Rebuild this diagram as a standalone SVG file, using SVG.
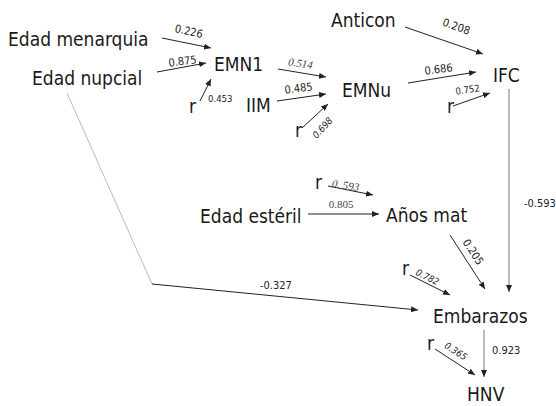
<svg xmlns="http://www.w3.org/2000/svg" width="556" height="406" viewBox="0 0 556 406">
<defs>
<marker id="ah" markerUnits="userSpaceOnUse" markerWidth="8" markerHeight="6" refX="7" refY="3" orient="auto">
<path d="M0,0 L7,3 L0,6 Z" fill="#222"/>
</marker>
<style>
.n{font-family:"DejaVu Sans Condensed","DejaVu Sans",sans-serif;font-stretch:condensed;font-size:19px;fill:#1a1a1a}
.l{font-family:"DejaVu Sans Condensed","DejaVu Sans",sans-serif;font-stretch:condensed;font-size:11px;fill:#222}
.s{font-size:9.5px}
.i{font-style:italic}
.t{font-family:"Liberation Serif",serif;font-size:11px;fill:#444}
.a{stroke:#222;stroke-width:1;fill:none;marker-end:url(#ah)}
.g{stroke:#777;stroke-width:1;fill:none}
</style>
</defs>
<rect width="556" height="406" fill="#fff"/>
<g id="connectors">
<line class="a" x1="162" y1="38" x2="211" y2="48"/>
<line class="a" x1="157" y1="72" x2="206" y2="63"/>
<line class="a" x1="200" y1="101" x2="211" y2="79"/>
<line class="a" x1="278" y1="69" x2="326" y2="77"/>
<line class="a" x1="277" y1="101" x2="326" y2="94"/>
<line class="a" x1="302" y1="128" x2="328" y2="104"/>
<line class="a" x1="405" y1="27" x2="483" y2="54"/>
<line class="a" x1="408" y1="83" x2="476" y2="72"/>
<line class="a" x1="453" y1="106" x2="490" y2="93"/>
<line class="g" x1="509" y1="89" x2="509" y2="292" marker-end="url(#ah)"/>
<line stroke="#aaa" stroke-width="0.8" x1="67" y1="93" x2="152" y2="284"/>
<line class="a" x1="152" y1="284" x2="418" y2="310"/>
<line class="a" x1="328" y1="186" x2="373" y2="195"/>
<line class="a" x1="308" y1="214" x2="379" y2="214"/>
<line class="a" x1="450" y1="235" x2="485" y2="289"/>
<line class="a" x1="410" y1="275" x2="450" y2="295"/>
<line class="g" x1="484" y1="330" x2="484" y2="377" marker-end="url(#ah)"/>
<line class="a" x1="435" y1="349" x2="475" y2="375"/>
<g id="labels">
<text class="l" transform="translate(188,35) rotate(12)" text-anchor="middle">0.226</text>
<text class="l" transform="translate(183,65) rotate(-7)" text-anchor="middle">0.875</text>
<text class="l s" x="208" y="102">0.453</text>
<text class="t i" transform="translate(300,67) rotate(8)" text-anchor="middle">0.514</text>
<text class="l" transform="translate(299,92) rotate(-7)" text-anchor="middle">0.485</text>
<text class="l s i" transform="translate(325,130) rotate(-48)" text-anchor="middle">0.698</text>
<text class="l" transform="translate(455,30) rotate(20)" text-anchor="middle">0.208</text>
<text class="l" transform="translate(439,73) rotate(-7)" text-anchor="middle">0.686</text>
<text class="l s" transform="translate(468,93) rotate(-8)" text-anchor="middle">0.752</text>
<text class="l" x="524" y="207">-0.593</text>
<text class="l" x="260" y="289">-0.327</text>
<text class="t i" transform="translate(345,189) rotate(8)" text-anchor="middle">0. 593</text>
<text class="t" x="341" y="208" text-anchor="middle">0.805</text>
<text class="l" transform="translate(470,254) rotate(57)" text-anchor="middle">0.205</text>
<text class="l s i" transform="translate(426,280) rotate(27)" text-anchor="middle">0.782</text>
<text class="l" x="492" y="354">0.923</text>
<text class="l s i" transform="translate(454,354) rotate(33)" text-anchor="middle">0.365</text>
</g>
</g>
<g id="edad-menarquia"><text class="n" x="8" y="46">Edad menarquia</text></g>
<g id="edad-nupcial"><text class="n" x="32" y="85">Edad nupcial</text></g>
<g id="emn1"><text class="n" x="214" y="71">EMN1</text></g>
<g id="iim"><text class="n" x="246" y="112">IIM</text></g>
<g id="anticon"><text class="n" x="331" y="27">Anticon</text></g>
<g id="emnu"><text class="n" x="342" y="97">EMNu</text></g>
<g id="ifc"><text class="n" x="493" y="82">IFC</text></g>
<g id="edad-esteril"><text class="n" x="200" y="223">Edad estéril</text></g>
<g id="anos-mat"><text class="n" x="386" y="222">Años mat</text></g>
<g id="embarazos"><text class="n" x="433" y="323">Embarazos</text></g>
<g id="hnv"><text class="n" x="467" y="401">HNV</text></g>
<g id="r-emn1"><text class="n" x="189" y="113">r</text></g>
<g id="r-emnu"><text class="n" x="295" y="137">r</text></g>
<g id="r-ifc"><text class="n" x="447" y="113">r</text></g>
<g id="r-anos"><text class="n" x="315" y="189">r</text></g>
<g id="r-embarazos"><text class="n" x="402" y="275">r</text></g>
<g id="r-hnv"><text class="n" x="427" y="350">r</text></g>
</svg>
